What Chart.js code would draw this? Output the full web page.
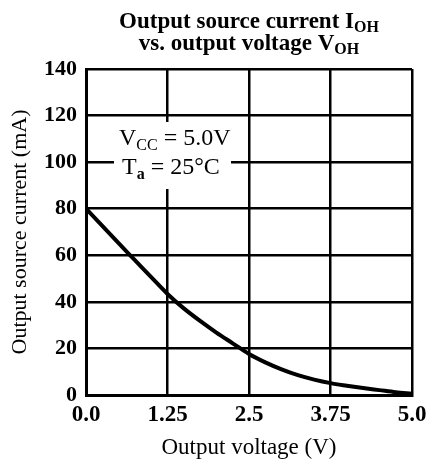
<!DOCTYPE html>
<html>
<head>
<meta charset="utf-8">
<script src="https://cdn.jsdelivr.net/npm/chart.js@4.4.1/dist/chart.umd.min.js"></script>
<style>
  html, body { margin: 0; padding: 0; background: #ffffff; }
  #wrap { width: 435px; height: 459px; position: relative; }
</style>
</head>
<body>
<div id="wrap"><canvas id="chart"></canvas></div>
<script>
// Output voltage (V) and output source current (mA)
const voltage = [0, 0.25, 0.5, 0.75, 1.0, 1.25, 1.5, 1.75, 2.0, 2.25, 2.5, 2.75, 3.0, 3.25, 3.5, 3.75, 4.0, 4.25, 4.5, 4.75, 5.0];
const current = [80, 72.6, 65.2, 57.9, 50.6, 43.4, 37.2, 31.8, 26.8, 22.2, 17.6, 14, 11, 8.5, 6.6, 5.1, 4, 3, 2.1, 1.2, 0.5];

// Tick labels
const xTicks = [0, 1.25, 2.5, 3.75, 5.0];
const xTickLabels = ['0.0', '1.25', '2.5', '3.75', '5.0'];
const yTicks = [0, 20, 40, 60, 80, 100, 120, 140];

const SERIF = '"Liberation Serif", "DejaVu Serif", serif';

// Draw text with a subscript, starting at x (left aligned)
function drawSubText(ctx, parts, x, y) {
  let cx = x;
  parts.forEach(p => {
    ctx.font = p.font;
    ctx.fillText(p.text, cx, y + (p.dy || 0));
    cx += ctx.measureText(p.text).width;
  });
  return cx - x;
}

function measureParts(ctx, parts) {
  let w = 0;
  parts.forEach(p => {
    ctx.font = p.font;
    w += ctx.measureText(p.text).width;
  });
  return w;
}

// Title with subscripts, drawn above the plot
const titlePlugin = {
  id: 'titleSub',
  afterDraw(chart) {
    const ctx = chart.ctx;
    const area = chart.chartArea;
    const cx = (area.left + area.right) / 2;
    const big = 'bold 23px ' + SERIF;
    const sub = 'bold 16px ' + SERIF;
    const lines = [
      { y: 28, parts: [{ text: 'Output source current I', font: big }, { text: 'OH', font: sub, dy: 4 }] },
      { y: 50, parts: [{ text: 'vs. output voltage V', font: big }, { text: 'OH', font: sub, dy: 4 }] }
    ];
    ctx.save();
    ctx.fillStyle = '#000';
    ctx.textBaseline = 'alphabetic';
    ctx.textAlign = 'left';
    lines.forEach(l => {
      const w = measureParts(ctx, l.parts);
      drawSubText(ctx, l.parts, cx - w / 2, l.y);
    });
    ctx.restore();
  }
};

// Condition box inside the plot (white background over grid)
const notePlugin = {
  id: 'noteBox',
  afterDatasetsDraw(chart) {
    const ctx = chart.ctx;
    const area = chart.chartArea;
    const bx = area.left + 28, by = area.top + 53, bw = 117, bh = 67;
    ctx.save();
    ctx.fillStyle = '#ffffff';
    ctx.fillRect(bx, by, bw, bh);
    ctx.fillStyle = '#000';
    ctx.textAlign = 'left';
    ctx.textBaseline = 'alphabetic';
    const big = '24px ' + SERIF;
    const sub = '16px ' + SERIF;
    drawSubText(ctx, [
      { text: 'V', font: big },
      { text: 'CC', font: sub, dy: 5 },
      { text: ' = 5.0V', font: big }
    ], area.left + 33, area.top + 76);
    drawSubText(ctx, [
      { text: 'T', font: big },
      { text: 'a', font: 'bold 16px ' + SERIF, dy: 5 },
      { text: ' = 25°C', font: big }
    ], area.left + 36, area.top + 105);
    ctx.restore();
  }
};

const ctx = document.getElementById('chart').getContext('2d');
new Chart(ctx, {
  type: 'line',
  data: {
    datasets: [{
      data: voltage.map((v, i) => ({ x: v, y: current[i] })),
      borderColor: '#000000',
      borderWidth: 4,
      pointRadius: 0,
      cubicInterpolationMode: 'monotone',
      fill: false
    }]
  },
  options: {
    responsive: true,
    maintainAspectRatio: false,
    animation: false,
    layout: {
      padding: { top: 69, right: 23, left: 0, bottom: 0 }
    },
    plugins: {
      legend: { display: false },
      tooltip: { enabled: false },
      title: { display: false }
    },
    scales: {
      x: {
        type: 'linear',
        min: 0,
        max: 5,
        afterBuildTicks(scale) {
          scale.ticks = xTicks.map(v => ({ value: v }));
        },
        afterFit(scale) {
          scale.height = 64;
        },
        ticks: {
          color: '#000',
          font: { family: SERIF, size: 23, weight: 'bold' },
          padding: 6,
          maxRotation: 0,
          autoSkip: false,
          callback: (value) => xTickLabels[xTicks.indexOf(value)]
        },
        grid: {
          color: '#000',
          lineWidth: 2.5,
          drawTicks: false
        },
        border: { color: '#000', width: 3 },
        title: {
          display: true,
          text: 'Output voltage (V)',
          color: '#000',
          font: { family: SERIF, size: 23, lineHeight: 1 },
          padding: { top: 0, bottom: 0 }
        }
      },
      y: {
        type: 'linear',
        min: 0,
        max: 140,
        afterBuildTicks(scale) {
          scale.ticks = yTicks.map(v => ({ value: v }));
        },
        afterFit(scale) {
          scale.width = 86;
        },
        ticks: {
          color: '#000',
          font: { family: SERIF, size: 22, weight: 'bold' },
          padding: 9,
          autoSkip: false
        },
        grid: {
          color: '#000',
          lineWidth: 2.5,
          drawTicks: false
        },
        border: { color: '#000', width: 3 },
        title: {
          display: true,
          text: 'Output source current (mA)',
          color: '#000',
          font: { family: SERIF, size: 22, lineHeight: 1.2 },
          padding: { top: 7, bottom: 0 }
        }
      }
    }
  },
  plugins: [titlePlugin, notePlugin]
});
</script>
</body>
</html>
